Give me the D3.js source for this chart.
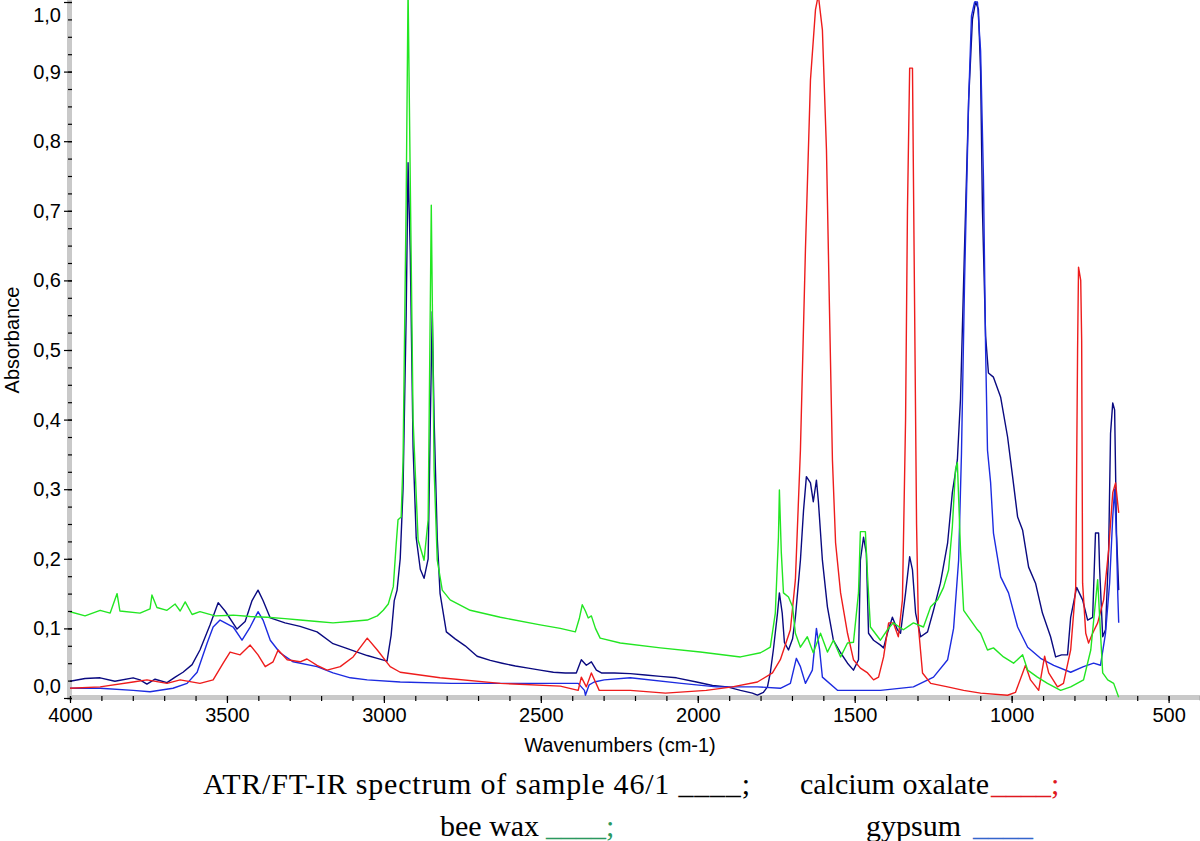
<!DOCTYPE html>
<html>
<head>
<meta charset="utf-8">
<script src="https://cdn.jsdelivr.net/npm/d3@7"></script>
<style>
  body { margin: 0; background: #fff; }
  svg { display: block; }
</style>
</head>
<body>
<svg id="chart" width="1200" height="841"></svg>
<script>
// [wavenumber cm-1, absorbance]
const sampleSpectrum = [
  [4000,0.024],[3952,0.028],[3904,0.029],[3857,0.024],[3799,0.029],[3777,0.026],[3755,0.020],
  [3729,0.027],[3691,0.022],[3665,0.030],[3640,0.037],[3611,0.048],[3586,0.069],[3554,0.105],
  [3528,0.137],[3506,0.125],[3468,0.099],[3442,0.110],[3420,0.140],[3401,0.155],[3385,0.140],
  [3362,0.115],[3315,0.108],[3267,0.103],[3213,0.095],[3162,0.078],[3123,0.072],[3085,0.066],
  [3053,0.061],[3021,0.057],[2990,0.053],[2977,0.090],[2967,0.140],[2958,0.155],[2948,0.200],
  [2939,0.300],[2929,0.550],[2923,0.769],[2916,0.640],[2907,0.360],[2897,0.230],[2884,0.185],
  [2872,0.172],[2859,0.200],[2852,0.400],[2846,0.555],[2840,0.400],[2830,0.230],[2821,0.150],
  [2801,0.095],[2773,0.085],[2741,0.075],[2703,0.060],[2661,0.054],[2623,0.050],[2581,0.046],
  [2540,0.043],[2502,0.040],[2460,0.037],[2422,0.036],[2387,0.036],[2371,0.055],[2355,0.047],
  [2339,0.052],[2323,0.040],[2307,0.036],[2266,0.036],[2215,0.035],[2167,0.033],[2119,0.031],
  [2068,0.029],[2004,0.023],[1953,0.018],[1906,0.016],[1864,0.011],[1826,0.007],[1810,0.004],
  [1791,0.008],[1778,0.016],[1769,0.036],[1759,0.070],[1746,0.122],[1740,0.151],[1731,0.122],
  [1724,0.080],[1711,0.069],[1698,0.085],[1689,0.116],[1673,0.198],[1663,0.270],[1654,0.318],
  [1641,0.309],[1632,0.282],[1622,0.313],[1616,0.284],[1603,0.198],[1587,0.131],[1568,0.083],
  [1545,0.065],[1523,0.050],[1504,0.040],[1488,0.055],[1482,0.198],[1472,0.231],[1463,0.208],
  [1456,0.093],[1440,0.083],[1418,0.076],[1408,0.072],[1396,0.093],[1380,0.116],[1364,0.098],
  [1354,0.093],[1338,0.151],[1325,0.203],[1316,0.184],[1306,0.122],[1290,0.088],[1268,0.095],
  [1249,0.126],[1227,0.165],[1204,0.223],[1189,0.295],[1173,0.342],[1163,0.430],[1150,0.650],
  [1137,0.860],[1125,0.975],[1115,1.000],[1106,0.990],[1099,0.900],[1093,0.700],[1083,0.520],
  [1074,0.467],[1058,0.461],[1035,0.432],[1013,0.375],[997,0.318],[981,0.260],[965,0.241],
  [946,0.188],[924,0.165],[902,0.122],[876,0.088],[860,0.059],[841,0.062],[822,0.062],
  [812,0.116],[793,0.159],[774,0.141],[758,0.112],[742,0.116],[733,0.237],[723,0.237],
  [720,0.188],[710,0.088],[701,0.098],[691,0.213],[685,0.380],[678,0.424],[672,0.414],
  [666,0.237],[659,0.155]
];

const oxalateSpectrum = [
  [4000,0.014],[3904,0.016],[3799,0.023],[3755,0.026],[3691,0.021],[3649,0.026],[3586,0.021],
  [3544,0.026],[3512,0.050],[3490,0.066],[3458,0.062],[3426,0.076],[3401,0.062],[3378,0.045],
  [3353,0.052],[3337,0.069],[3308,0.055],[3267,0.052],[3245,0.056],[3213,0.047],[3181,0.040],
  [3139,0.045],[3098,0.059],[3053,0.086],[3021,0.069],[2980,0.045],[2948,0.037],[2821,0.029],
  [2629,0.021],[2438,0.017],[2381,0.011],[2371,0.030],[2355,0.016],[2339,0.036],[2314,0.011],
  [2215,0.011],[2103,0.007],[1973,0.011],[1890,0.016],[1810,0.023],[1762,0.036],[1737,0.055],
  [1705,0.098],[1689,0.170],[1673,0.356],[1657,0.644],[1641,0.888],[1625,0.989],[1616,1.010],
  [1603,0.960],[1590,0.787],[1581,0.572],[1571,0.342],[1561,0.223],[1545,0.151],[1523,0.093],
  [1504,0.055],[1482,0.043],[1459,0.036],[1440,0.026],[1424,0.030],[1408,0.059],[1392,0.108],
  [1377,0.108],[1361,0.088],[1348,0.141],[1338,0.400],[1332,0.700],[1325,0.905],[1316,0.905],
  [1310,0.600],[1303,0.250],[1297,0.102],[1284,0.036],[1258,0.021],[1204,0.016],[1153,0.011],
  [1099,0.007],[1013,0.004],[988,0.008],[965,0.036],[956,0.047],[940,0.026],[914,0.011],
  [895,0.060],[882,0.036],[854,0.016],[835,0.021],[812,0.069],[796,0.159],[790,0.500],
  [787,0.619],[780,0.600],[777,0.514],[774,0.165],[764,0.093],[755,0.079],[742,0.093],
  [726,0.108],[707,0.141],[691,0.213],[678,0.295],[669,0.309],[659,0.266]
];

const waxSpectrum = [
  [4000,0.124],[3952,0.118],[3904,0.126],[3872,0.122],[3850,0.150],[3841,0.125],[3777,0.122],
  [3745,0.128],[3739,0.148],[3723,0.130],[3691,0.126],[3665,0.135],[3649,0.125],[3633,0.138],
  [3611,0.120],[3586,0.124],[3538,0.118],[3480,0.119],[3426,0.117],[3372,0.116],[3315,0.114],
  [3267,0.112],[3213,0.110],[3162,0.108],[3107,0.110],[3053,0.112],[3021,0.118],[3002,0.126],
  [2986,0.135],[2970,0.160],[2961,0.220],[2955,0.256],[2945,0.260],[2939,0.340],[2929,0.716],
  [2923,1.020],[2916,0.744],[2907,0.400],[2891,0.227],[2872,0.198],[2859,0.256],[2849,0.708],
  [2840,0.328],[2830,0.198],[2814,0.155],[2789,0.141],[2725,0.126],[2629,0.116],[2502,0.105],
  [2438,0.100],[2390,0.095],[2377,0.115],[2368,0.134],[2358,0.125],[2349,0.115],[2339,0.118],
  [2326,0.100],[2311,0.086],[2247,0.079],[2119,0.072],[1992,0.066],[1864,0.059],[1800,0.065],
  [1769,0.073],[1753,0.122],[1743,0.231],[1740,0.299],[1734,0.210],[1727,0.151],[1711,0.145],
  [1698,0.131],[1689,0.093],[1673,0.073],[1651,0.088],[1632,0.065],[1609,0.093],[1587,0.066],
  [1568,0.083],[1545,0.059],[1523,0.079],[1504,0.080],[1488,0.151],[1482,0.239],[1466,0.239],
  [1459,0.174],[1450,0.102],[1418,0.083],[1396,0.098],[1377,0.108],[1345,0.098],[1313,0.108],
  [1281,0.102],[1258,0.131],[1236,0.141],[1217,0.159],[1201,0.184],[1189,0.246],[1179,0.328],
  [1173,0.338],[1163,0.213],[1153,0.126],[1131,0.112],[1109,0.098],[1099,0.093],[1077,0.069],
  [1058,0.072],[1026,0.059],[994,0.050],[965,0.062],[949,0.040],[918,0.030],[886,0.021],
  [844,0.011],[812,0.016],[771,0.026],[748,0.069],[726,0.170],[717,0.093],[710,0.036],
  [694,0.026],[675,0.021],[659,0.001]
];

const gypsumSpectrum = [
  [4000,0.014],[3904,0.014],[3799,0.011],[3745,0.009],[3672,0.014],[3627,0.021],[3595,0.037],
  [3563,0.079],[3544,0.102],[3522,0.112],[3480,0.102],[3452,0.083],[3426,0.102],[3401,0.124],
  [3385,0.112],[3362,0.083],[3331,0.065],[3289,0.052],[3213,0.045],[3162,0.036],[3107,0.029],
  [3053,0.026],[2948,0.023],[2785,0.021],[2623,0.021],[2381,0.021],[2361,0.011],[2358,0.004],
  [2346,0.019],[2330,0.023],[2298,0.026],[2215,0.029],[2052,0.021],[1941,0.016],[1810,0.016],
  [1737,0.014],[1705,0.021],[1686,0.057],[1673,0.045],[1657,0.021],[1635,0.040],[1622,0.100],
  [1612,0.070],[1603,0.030],[1555,0.011],[1418,0.011],[1313,0.016],[1249,0.030],[1204,0.055],
  [1185,0.100],[1169,0.198],[1160,0.350],[1150,0.600],[1137,0.860],[1128,0.980],[1118,1.000],
  [1109,1.000],[1099,0.930],[1090,0.750],[1083,0.500],[1077,0.356],[1067,0.309],[1058,0.237],
  [1035,0.174],[1010,0.151],[981,0.102],[949,0.073],[908,0.057],[866,0.047],[812,0.037],
  [771,0.045],[739,0.050],[717,0.047],[701,0.093],[688,0.165],[678,0.260],[672,0.300],
  [666,0.227],[662,0.150],[659,0.108]
];

const xMajorTicks = [4000, 3500, 3000, 2500, 2000, 1500, 1000, 500];
const yMajorTicks = [0, 0.1, 0.2, 0.3, 0.4, 0.5, 0.6, 0.7, 0.8, 0.9, 1.0];

const series = [
  { name: 'sample', data: sampleSpectrum, color: '#0a0a80' },
  { name: 'gypsum', data: gypsumSpectrum, color: '#1c2be0' },
  { name: 'oxalate', data: oxalateSpectrum, color: '#ee1c1c' },
  { name: 'wax', data: waxSpectrum, color: '#22e622' }
];

const svg = d3.select('#chart');
const plotLeft = 70, plotRight = 1200, plotTop = 2, plotBottom = 698;

const x = d3.scaleLinear().domain([4000, 400]).range([plotLeft, plotRight]);
const y = d3.scaleLinear().domain([0, 1]).range([plotBottom, plotTop]);

svg.append('defs').append('clipPath').attr('id', 'plot')
  .append('rect').attr('x', plotLeft).attr('y', 0)
  .attr('width', plotRight - plotLeft).attr('height', plotBottom);

// grey axis bands
svg.append('rect').attr('x', plotLeft - 3).attr('y', 0).attr('width', 5)
  .attr('height', plotBottom + 2).attr('fill', '#c9c9c9');
svg.append('rect').attr('x', plotLeft - 3).attr('y', plotBottom - 3)
  .attr('width', plotRight - plotLeft + 3).attr('height', 5).attr('fill', '#c9c9c9');

const line = d3.line().x(d => x(d[0])).y(d => y(d[1]));

svg.append('g').attr('clip-path', 'url(#plot)')
  .selectAll('path')
  .data(series)
  .enter().append('path')
    .attr('d', d => line(d.data))
    .attr('fill', 'none')
    .attr('stroke', d => d.color)
    .attr('stroke-width', 1.4)
    .attr('stroke-linejoin', 'round');

const tickFont = 'Liberation Sans, Arial, sans-serif';

// y axis
const yMinor = svg.append('g').attr('transform', `translate(${plotLeft + 2},0)`)
  .call(d3.axisLeft(y).tickValues(d3.range(0, 1.0001, 0.025)).tickSize(4).tickFormat(''));
const yMajor = svg.append('g').attr('transform', `translate(${plotLeft + 2},0)`)
  .call(d3.axisLeft(y).tickValues(yMajorTicks).tickSize(8).tickPadding(3)
    .tickFormat(d => d.toFixed(1).replace('.', ',')));

// x axis
const xMinor = svg.append('g').attr('transform', `translate(0,${plotBottom - 2})`)
  .call(d3.axisBottom(x).tickValues(d3.range(4000, 399, -100)).tickSize(5).tickFormat(''));
const xMajor = svg.append('g').attr('transform', `translate(0,${plotBottom - 2})`)
  .call(d3.axisBottom(x).tickValues(xMajorTicks).tickSize(7).tickPadding(5).tickFormat(d3.format('d')));

[yMinor, yMajor, xMinor, xMajor].forEach(g => {
  g.select('.domain').remove();
  g.selectAll('line').attr('stroke', '#000').attr('stroke-width', 1.2);
  g.selectAll('text').attr('fill', '#000').style('font-family', tickFont).style('font-size', '20px');
});

// keep end labels inside the frame
yMajor.selectAll('.tick').filter(d => d === 1).select('text').attr('dy', '0.95em');
yMajor.selectAll('.tick').filter(d => d === 0).select('text').attr('dy', '-0.3em');

svg.append('text')
  .attr('transform', 'translate(19,340) rotate(-90)')
  .attr('text-anchor', 'middle')
  .style('font-family', tickFont).style('font-size', '20px')
  .text('Absorbance');

svg.append('text')
  .attr('x', 620).attr('y', 752)
  .attr('text-anchor', 'middle')
  .style('font-family', tickFont).style('font-size', '20px')
  .text('Wavenumbers (cm-1)');

// caption legend
const legendFont = 'Liberation Serif, Times New Roman, serif';
const legend = [
  { x: 203, y: 794, text: 'ATR/FT-IR spectrum of sample 46/1 ____;', color: '#000', len: 547 },
  { x: 800, y: 794, text: 'calcium oxalate', color: '#000' },
  { x: 991, y: 794, text: '____;', color: '#e0191f' },
  { x: 440, y: 836, text: 'bee wax', color: '#000' },
  { x: 546, y: 836, text: '____;', color: '#2a9960' },
  { x: 866, y: 836, text: 'gypsum', color: '#000' },
  { x: 973, y: 836, text: '____', color: '#3366cc' }
];

svg.append('g').selectAll('text')
  .data(legend)
  .enter().append('text')
    .attr('x', d => d.x).attr('y', d => d.y)
    .attr('fill', d => d.color)
    .attr('textLength', d => d.len || null)
    .attr('lengthAdjust', 'spacing')
    .style('font-family', legendFont).style('font-size', '30px')
    .text(d => d.text);
</script>
</body>
</html>
